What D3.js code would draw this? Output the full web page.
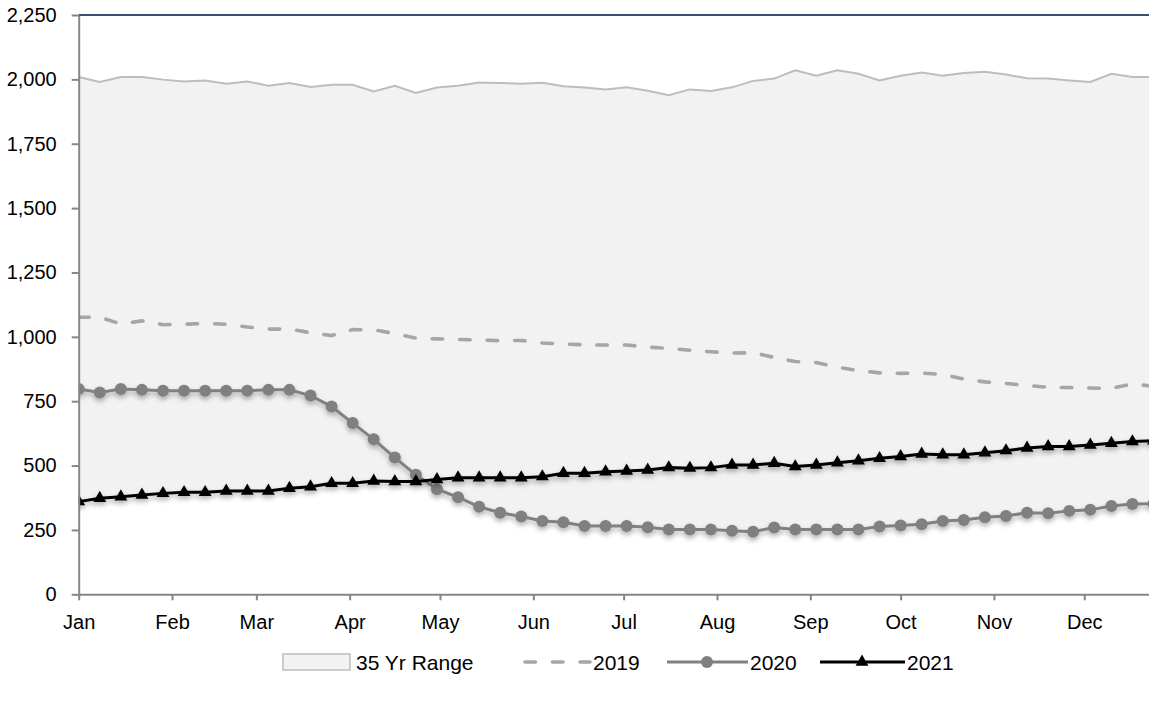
<!DOCTYPE html>
<html>
<head>
<meta charset="utf-8">
<script src="https://cdn.jsdelivr.net/npm/d3@7"></script>
<style>
  body { margin: 0; background: #fff; }
  svg { display: block; }
  text { font-family: "Liberation Sans", Arial, sans-serif; fill: #000; }
</style>
</head>
<body>
<svg id="chart" width="1149" height="706"></svg>
<script>
// Weekly storage levels, one value per week starting Jan 1
const monthLabels = ["Jan", "Feb", "Mar", "Apr", "May", "Jun", "Jul", "Aug", "Sep", "Oct", "Nov", "Dec"];
const yTicks = [0, 250, 500, 750, 1000, 1250, 1500, 1750, 2000, 2250];

const range35High = [2009, 1990, 2009, 2009, 1999, 1992, 1996, 1983, 1992, 1975, 1986, 1970, 1979, 1979, 1953, 1975,
  1947, 1968, 1975, 1988, 1986, 1983, 1987, 1973, 1968, 1961, 1969, 1956, 1938, 1961, 1955, 1969,
  1994, 2003, 2035, 2014, 2035, 2022, 1996, 2014, 2027, 2014, 2025, 2030, 2019, 2004, 2003, 1996,
  1990, 2022, 2009, 2009];
const range35Low = [360, 373, 379, 386, 392, 396, 396, 401, 401, 401, 412, 418, 431, 431, 440, 438,
  438, 408, 377, 340, 317, 302, 285, 280, 265, 265, 265, 260, 252, 252, 252, 247,
  243, 259, 252, 252, 252, 252, 263, 267, 272, 285, 289, 299, 304, 317, 315, 324,
  328, 343, 351, 352];
const series2019 = [1076, 1076, 1050, 1062, 1047, 1049, 1052, 1049, 1038, 1030, 1030, 1016, 1005, 1028, 1027, 1013,
  995, 992, 990, 988, 985, 986, 976, 972, 969, 968, 968, 960, 955, 948, 942, 937,
  938, 920, 904, 900, 882, 869, 860, 858, 859, 854, 836, 825, 819, 811, 804, 803,
  801, 800, 817, 808];
const series2020 = [797, 784, 797, 794, 791, 791, 791, 791, 791, 794, 794, 772, 729, 665, 602, 531,
  464, 408, 377, 340, 317, 302, 285, 280, 265, 265, 265, 260, 252, 252, 252, 247,
  243, 259, 252, 252, 252, 252, 263, 267, 272, 285, 289, 299, 304, 317, 315, 324,
  328, 343, 351, 352];
const series2021 = [360, 373, 379, 386, 392, 396, 396, 401, 401, 401, 412, 418, 431, 431, 440, 438,
  438, 446, 453, 453, 453, 453, 457, 470, 470, 476, 479, 483, 492, 490, 492, 502,
  502, 509, 496, 502, 511, 519, 528, 535, 545, 542, 542, 550, 558, 568, 574, 574,
  580, 587, 593, 596];

const svg = d3.select("#chart");
const DAY = 864e5;
const start = Date.UTC(2021, 0, 1);
const weekDate = i => new Date(start + 7 * i * DAY);

const plotLeft = 78.7, plotRight = 1149, plotTop = 15, plotBottom = 594.3;

const x = d3.scaleUtc()
  .domain([new Date(start), new Date(start + 355.5 * DAY)])
  .range([plotLeft, plotRight]);
const y = d3.scaleLinear().domain([0, 2250]).range([plotBottom, plotTop]);

const defs = svg.append("defs");
defs.append("clipPath").attr("id", "plotClip")
  .append("rect")
  .attr("x", plotLeft).attr("y", plotTop - 10)
  .attr("width", plotRight - plotLeft).attr("height", plotBottom - plotTop + 10);
const shadow = defs.append("filter").attr("id", "lineShadow")
  .attr("x", "-5%").attr("y", "-20%").attr("width", "110%").attr("height", "150%");
shadow.append("feDropShadow")
  .attr("dx", 0).attr("dy", 3).attr("stdDeviation", 2.5)
  .attr("flood-color", "#000").attr("flood-opacity", 0.3);

const plot = svg.append("g").attr("clip-path", "url(#plotClip)");

// 35-year range band
const idx = d3.range(range35High.length);
plot.append("path")
  .datum(idx)
  .attr("fill", "#f2f2f2")
  .attr("d", d3.area()
    .x(i => x(weekDate(i)))
    .y0(i => y(range35Low[i]))
    .y1(i => y(range35High[i])));
plot.append("path")
  .datum(idx)
  .attr("fill", "none")
  .attr("stroke", "#bdbdbd")
  .attr("stroke-width", 2)
  .attr("d", d3.line().x(i => x(weekDate(i))).y(i => y(range35High[i])));

const lineOf = arr => d3.line().x((d, i) => x(weekDate(i))).y(d => y(d))(arr);

// 2019 dashed
plot.append("path")
  .attr("d", lineOf(series2019))
  .attr("fill", "none")
  .attr("stroke", "#a6a6a6")
  .attr("stroke-width", 3.6)
  .attr("stroke-linecap", "round")
  .attr("stroke-dasharray", "10.5,17");

// 2020 with circles
const g2020 = plot.append("g").attr("filter", "url(#lineShadow)");
g2020.append("path")
  .attr("d", lineOf(series2020))
  .attr("fill", "none")
  .attr("stroke", "#808080")
  .attr("stroke-width", 3);
g2020.selectAll("circle").data(series2020).join("circle")
  .attr("cx", (d, i) => x(weekDate(i)))
  .attr("cy", d => y(d))
  .attr("r", 6)
  .attr("fill", "#808080");

// 2021 with triangles
const tri = d3.symbol().type(d3.symbolTriangle).size(72);
const g2021 = plot.append("g").attr("filter", "url(#lineShadow)");
g2021.append("path")
  .attr("d", lineOf(series2021))
  .attr("fill", "none")
  .attr("stroke", "#000")
  .attr("stroke-width", 3);
g2021.selectAll("path.mk").data(series2021).join("path")
  .attr("class", "mk")
  .attr("d", tri)
  .attr("transform", (d, i) => `translate(${x(weekDate(i))},${y(d)})`)
  .attr("fill", "#000");

// Top frame line
svg.append("line")
  .attr("x1", plotLeft).attr("x2", plotRight)
  .attr("y1", plotTop).attr("y2", plotTop)
  .attr("stroke", "#3e4c70").attr("stroke-width", 2);

// Y axis
const yAxis = svg.append("g")
  .attr("transform", `translate(${plotLeft},0)`)
  .call(d3.axisLeft(y).tickValues(yTicks).tickFormat(d3.format(",")).tickSize(7).tickSizeOuter(0).tickPadding(15));
yAxis.select(".domain").attr("stroke", "#868686").attr("stroke-width", 2);
yAxis.selectAll(".tick line").attr("stroke", "#868686").attr("stroke-width", 2);
yAxis.selectAll("text").attr("font-size", 20).attr("fill", "#000");
yAxis.attr("font-family", null);

// X axis (month starts)
const monthStarts = d3.range(12).map(m => new Date(Date.UTC(2021, m, 1)));
const xAxis = svg.append("g")
  .attr("transform", `translate(0,${plotBottom})`)
  .call(d3.axisBottom(x).tickValues(monthStarts).tickFormat((d, i) => monthLabels[i]).tickSize(6).tickSizeOuter(0).tickPadding(15));
xAxis.select(".domain").attr("stroke", "#868686").attr("stroke-width", 2);
xAxis.selectAll(".tick line").attr("stroke", "#868686").attr("stroke-width", 2);
xAxis.selectAll("text").attr("font-size", 20).attr("fill", "#000");
xAxis.attr("font-family", null);

// Legend
const ly = 662;
const legend = svg.append("g");
legend.append("rect")
  .attr("x", 283).attr("y", ly - 8).attr("width", 67).attr("height", 16)
  .attr("fill", "#f2f2f2").attr("stroke", "#bdbdbd").attr("stroke-width", 1.5);
legend.append("text").attr("x", 356).attr("y", ly).attr("dy", "0.36em").attr("font-size", 21).text("35 Yr Range");

legend.append("line")
  .attr("x1", 525).attr("x2", 590).attr("y1", ly).attr("y2", ly)
  .attr("stroke", "#a6a6a6").attr("stroke-width", 3.6)
  .attr("stroke-linecap", "round").attr("stroke-dasharray", "10.5,17");
legend.append("text").attr("x", 593).attr("y", ly).attr("dy", "0.36em").attr("font-size", 21).text("2019");

legend.append("line")
  .attr("x1", 667).attr("x2", 748).attr("y1", ly).attr("y2", ly)
  .attr("stroke", "#808080").attr("stroke-width", 3);
legend.append("circle").attr("cx", 707).attr("cy", ly).attr("r", 6).attr("fill", "#808080");
legend.append("text").attr("x", 750).attr("y", ly).attr("dy", "0.36em").attr("font-size", 21).text("2020");

legend.append("line")
  .attr("x1", 820).attr("x2", 905).attr("y1", ly).attr("y2", ly)
  .attr("stroke", "#000").attr("stroke-width", 3);
legend.append("path").attr("d", tri).attr("transform", `translate(862,${ly})`).attr("fill", "#000");
legend.append("text").attr("x", 907).attr("y", ly).attr("dy", "0.36em").attr("font-size", 21).text("2021");
</script>
</body>
</html>
